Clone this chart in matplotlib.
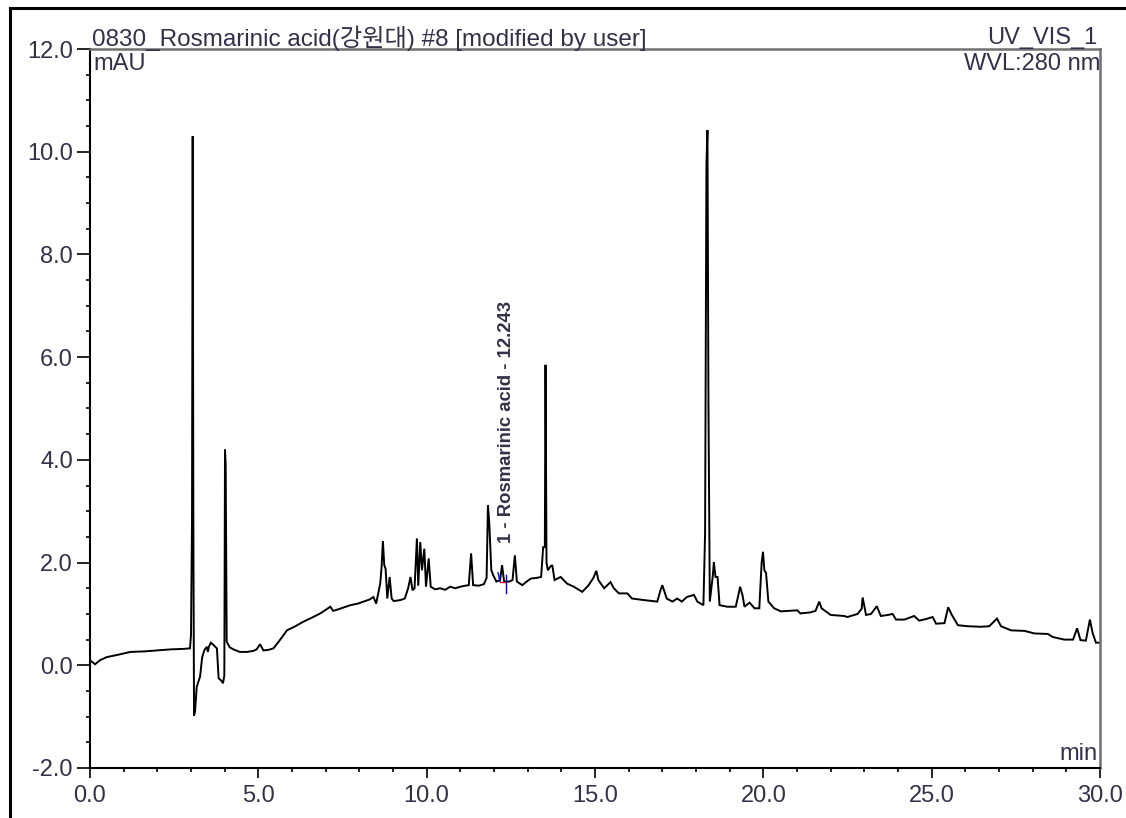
import numpy as np
import matplotlib
matplotlib.use("Agg")
import matplotlib.pyplot as plt
from matplotlib.lines import Line2D
from matplotlib.ticker import MultipleLocator, FormatStrFormatter

plt.rcParams['font.family'] = ['Liberation Sans', 'Noto Sans CJK KR', 'DejaVu Sans']

# chromatogram trace (retention time in min, signal in mAU)
rt = [0.00, 0.15, 0.30, 0.50, 0.80, 1.20, 1.60, 2.00, 2.40, 2.80, 2.97, 3.00, 3.03, 3.05,
      3.07, 3.09, 3.12, 3.17, 3.27, 3.33, 3.40, 3.47, 3.50, 3.53, 3.59, 3.66, 3.72, 3.77,
      3.82, 3.90, 3.95, 3.99, 4.01, 4.03, 4.06, 4.15, 4.26, 4.45, 4.66, 4.85, 4.95, 5.05,
      5.15, 5.30, 5.45, 5.65, 5.85, 6.10, 6.34, 6.60, 6.84, 7.00, 7.14, 7.22, 7.33, 7.55,
      7.73, 7.95, 8.13, 8.30, 8.42, 8.50, 8.62, 8.66, 8.70, 8.74, 8.78, 8.83, 8.90, 8.96,
      9.02, 9.22, 9.35, 9.45, 9.52, 9.58, 9.64, 9.71, 9.75, 9.81, 9.86, 9.93, 9.98, 10.06,
      10.12, 10.25, 10.40, 10.55, 10.70, 10.85, 11.00, 11.15, 11.25, 11.32, 11.38, 11.55,
      11.70, 11.78, 11.82, 11.86, 11.92, 11.98, 12.07, 12.18, 12.24, 12.30, 12.45, 12.55,
      12.62, 12.68, 12.84, 12.95, 13.10, 13.25, 13.40, 13.46, 13.51, 13.53, 13.56, 13.60,
      13.67, 13.73, 13.80, 13.98, 14.17, 14.37, 14.62, 14.80, 14.87, 14.95, 15.04, 15.10,
      15.27, 15.40, 15.46, 15.56, 15.71, 15.96, 16.10, 16.45, 16.85, 16.94, 17.00, 17.13,
      17.30, 17.44, 17.58, 17.73, 17.94, 18.04, 18.22, 18.27, 18.31, 18.34, 18.37, 18.41,
      18.50, 18.53, 18.58, 18.64, 18.70, 18.93, 19.18, 19.27, 19.31, 19.38, 19.44, 19.59,
      19.74, 19.88, 19.95, 19.99, 20.03, 20.08, 20.15, 20.32, 20.52, 21.01, 21.10, 21.40,
      21.55, 21.66, 21.73, 22.00, 22.40, 22.50, 22.80, 22.92, 22.95, 23.05, 23.20, 23.37,
      23.49, 23.70, 23.84, 23.94, 24.19, 24.48, 24.63, 24.83, 25.03, 25.13, 25.38, 25.49,
      25.60, 25.78, 26.08, 26.46, 26.71, 26.94, 27.06, 27.36, 27.76, 28.05, 28.45, 28.60,
      28.94, 29.20, 29.32, 29.42, 29.58, 29.70, 29.78, 29.88, 30.00]
mau = [0.10, 0.02, 0.10, 0.16, 0.20, 0.26, 0.27, 0.29, 0.31, 0.32, 0.33, 0.59, 2.82, 10.30,
       2.82, -0.98, -0.90, -0.42, -0.22, 0.15, 0.30, 0.36, 0.26, 0.36, 0.44, 0.40, 0.36, 0.33,
       -0.25, -0.30, -0.35, -0.20, 4.20, 3.90, 0.46, 0.35, 0.31, 0.26, 0.26, 0.28, 0.31, 0.41,
       0.29, 0.30, 0.33, 0.50, 0.68, 0.76, 0.85, 0.93, 1.01, 1.08, 1.14, 1.06, 1.08, 1.13,
       1.17, 1.20, 1.24, 1.28, 1.33, 1.20, 1.59, 1.90, 2.42, 1.95, 1.88, 1.30, 1.72, 1.30,
       1.25, 1.27, 1.30, 1.50, 1.72, 1.46, 1.50, 2.47, 1.55, 2.40, 1.85, 2.27, 1.53, 2.08,
       1.53, 1.48, 1.50, 1.47, 1.53, 1.50, 1.53, 1.55, 1.56, 2.18, 1.56, 1.55,
       1.58, 1.70, 3.12, 2.76, 1.85, 1.75, 1.63, 1.66, 1.95, 1.63, 1.63, 1.66,
       2.14, 1.63, 1.56, 1.62, 1.69, 1.70, 1.72, 2.30, 2.30, 5.85, 2.00, 1.85,
       1.92, 1.95, 1.66, 1.72, 1.59, 1.53, 1.43, 1.55, 1.62, 1.70, 1.84, 1.66,
       1.50, 1.58, 1.62, 1.50, 1.40, 1.40, 1.30, 1.27, 1.24, 1.45, 1.56, 1.30,
       1.24, 1.30, 1.24, 1.33, 1.37, 1.24, 1.17, 2.57, 9.75, 10.42, 5.10, 1.24,
       1.75, 2.01, 1.72, 1.72, 1.17, 1.14, 1.14, 1.40, 1.53, 1.37, 1.14, 1.22,
       1.11, 1.11, 2.00, 2.21, 1.85, 1.80, 1.24, 1.11, 1.05, 1.07, 1.01, 1.03,
       1.06, 1.24, 1.11, 0.98, 0.96, 0.94, 1.00, 1.10, 1.32, 0.98, 1.00, 1.15,
       0.96, 0.98, 1.00, 0.89, 0.89, 0.96, 0.87, 0.90, 0.94, 0.81, 0.82, 1.13,
       0.98, 0.78, 0.76, 0.75, 0.76, 0.91, 0.76, 0.68, 0.67, 0.62, 0.61, 0.55,
       0.50, 0.50, 0.72, 0.49, 0.48, 0.89, 0.63, 0.44, 0.44]

peak_name = "1 - Rosmarinic acid - 12.243"
peak_rt = 12.243
title_left = "0830_Rosmarinic acid(강원대) #8 [modified by user]"
title_right = "UV_VIS_1"
wvl_label = "WVL:280 nm"

txt = '#34304a'
fs = 17

fig = plt.figure(figsize=(11.26, 8.18), dpi=100)
ax = fig.add_axes([90/1126, 50/818, 1010/1126, 719/818])

ax.plot(rt, mau, color='black', lw=1.4, solid_joinstyle='miter')

# integration baseline marks around the labelled peak
ax.plot([12.18, 12.36], [1.63, 1.63], color='red', lw=1.0)
ax.plot([12.12, 12.18], [1.80, 1.63], color='blue', lw=1.0)
ax.plot([12.36, 12.36], [1.40, 1.75], color='blue', lw=1.0)

ax.text(peak_rt + 0.12, 2.38, peak_name, rotation=90, ha='center', va='bottom',
        fontsize=13.3, fontweight='bold', color=txt)

ax.set_xlim(0, 30)
ax.set_ylim(-2, 12)
ax.xaxis.set_major_locator(MultipleLocator(5))
ax.xaxis.set_minor_locator(MultipleLocator(1))
ax.yaxis.set_major_locator(MultipleLocator(2))
ax.yaxis.set_minor_locator(MultipleLocator(0.5))
ax.xaxis.set_major_formatter(FormatStrFormatter('%.1f'))
ax.yaxis.set_major_formatter(FormatStrFormatter('%.1f'))

ax.tick_params(axis='x', which='major', length=7.5, width=1.2, pad=5, labelsize=fs, labelcolor=txt)
ax.tick_params(axis='y', which='major', length=9.4, width=1.2, pad=3, labelsize=fs, labelcolor=txt)
ax.tick_params(which='minor', length=3, width=1.2)

for s in ['left', 'bottom']:
    ax.spines[s].set_color('black')
    ax.spines[s].set_linewidth(1.5)
for s in ['top', 'right']:
    ax.spines[s].set_color('#707070')
    ax.spines[s].set_linewidth(1.8)

ax.text(0.002, 1.004, title_left, transform=ax.transAxes, ha='left', va='baseline',
        fontsize=17.5, color=txt)
ax.text(0.997, 1.007, title_right, transform=ax.transAxes, ha='right', va='baseline',
        fontsize=fs, color=txt)
ax.text(0.003, 0.994, "mAU", transform=ax.transAxes, ha='left', va='top',
        fontsize=fs, color=txt)
ax.text(1.0, 0.994, wvl_label, transform=ax.transAxes, ha='right', va='top',
        fontsize=fs, color=txt)
ax.text(0.998, 0.011, "min", transform=ax.transAxes, ha='right', va='baseline',
        fontsize=fs, color=txt)

# frame of the screenshot (top and left edges)
fx = 9.5 / 1126
fy = 1 - 8 / 818
fig.add_artist(Line2D([fx, fx], [0, fy], color='black', lw=2.2, transform=fig.transFigure))
fig.add_artist(Line2D([fx, 1], [fy, fy], color='black', lw=2.2, transform=fig.transFigure))

fig.savefig('out.png', dpi=100, facecolor='white')
